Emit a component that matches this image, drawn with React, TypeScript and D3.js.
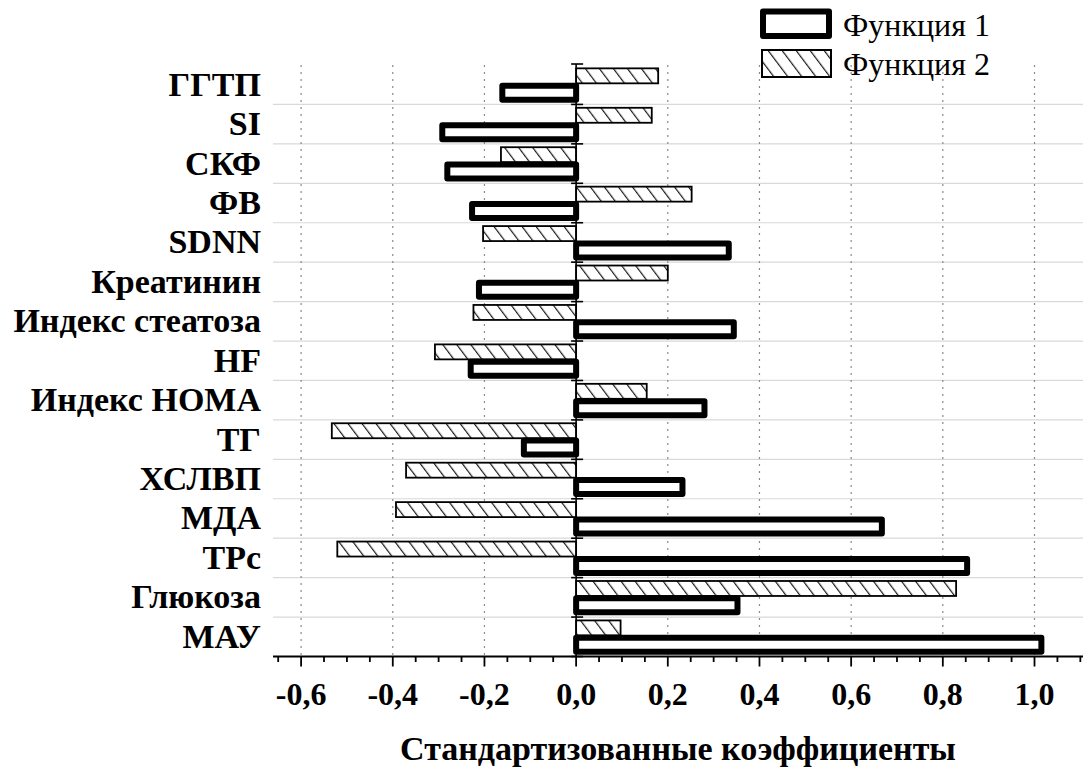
import React from "react";
import * as d3 from "d3";

// Standardized discriminant function coefficients per indicator
const categories = [
  "ГГТП",
  "SI",
  "СКФ",
  "ФВ",
  "SDNN",
  "Креатинин",
  "Индекс стеатоза",
  "HF",
  "Индекс НОМА",
  "ТГ",
  "ХСЛВП",
  "МДА",
  "ТРс",
  "Глюкоза",
  "МАУ",
];
const function1 = [
  -0.161, -0.292, -0.281, -0.227, 0.333, -0.212, 0.344, -0.23, 0.28, -0.114,
  0.232, 0.667, 0.853, 0.352, 1.015,
];
const function2 = [
  0.179, 0.165, -0.164, 0.252, -0.203, 0.2, -0.224, -0.308, 0.154, -0.533,
  -0.371, -0.393, -0.521, 0.829, 0.097,
];
const seriesNames = ["Функция 1", "Функция 2"];
const majorTicks = [-0.6, -0.4, -0.2, 0.0, 0.2, 0.4, 0.6, 0.8, 1.0];
const axisTitle = "Стандартизованные коэффициенты";

const W = 1083;
const H = 769;
const FONT = "Liberation Serif, Tinos, Times New Roman, DejaVu Serif, serif";

export default function App() {
  const x = d3.scaleLinear().domain([-0.6, 1.0]).range([301.1, 1034.5]);
  const y = d3.scaleBand<string>().domain(categories).range([65, 656.5]).paddingInner(0);
  const bw = y.bandwidth();
  const x0 = x(0);
  const axisY = 656.5;
  const axisLeft = 273;
  const axisRight = W;

  const minorTicks = d3.range(-13, 23).map((i) => i * 0.05);
  const fmt = (v: number) => d3.format(".1f")(v).replace(".", ",").replace("−", "-");
  const boundaries = categories.map((c) => y(c) as number).concat([axisY]);
  const txt = { fontFamily: FONT } as React.CSSProperties;

  return (
    <div style={{ position: "absolute", left: 0, top: 0 }}>
      <svg width={W} height={H} viewBox={`0 0 ${W} ${H}`} style={{ display: "block", background: "#fff" }}>
        <defs>
          <pattern
            id="hatch"
            patternUnits="userSpaceOnUse"
            width={11.2}
            height={11.2}
            patternTransform="rotate(-37)"
          >
            <rect width={11.2} height={11.2} fill="#fff" />
            <line x1={0.6} y1={0} x2={0.6} y2={11.2} stroke="#1a1a1a" strokeWidth={1.2} />
          </pattern>
        </defs>

        {/* category separators */}
        {boundaries.slice(1, -1).map((b, i) => (
          <line key={`sep${i}`} x1={axisLeft} x2={axisRight} y1={b} y2={b} stroke="#d9d9d9" strokeWidth={1.2} />
        ))}

        {/* vertical dotted grid */}
        {majorTicks
          .filter((t) => t !== 0)
          .map((t) => (
            <line
              key={`g${t}`}
              x1={x(t)}
              x2={x(t)}
              y1={65}
              y2={axisY}
              stroke="#8a8a8a"
              strokeWidth={1.2}
              strokeDasharray="2,5"
            />
          ))}

        {/* Function 2: hatched bars */}
        {categories.map((c, i) => {
          const v = function2[i];
          const top = (y(c) as number) + bw * 0.085;
          return (
            <rect
              key={`f2${c}`}
              x={Math.min(x0, x(v))}
              y={top}
              width={Math.abs(x(v) - x0)}
              height={bw * 0.38}
              fill="url(#hatch)"
              stroke="#000"
              strokeWidth={1.8}
            />
          );
        })}

        {/* Function 1: thick outlined bars */}
        {categories.map((c, i) => {
          const v = function1[i];
          const top = (y(c) as number) + bw * 0.525;
          return (
            <rect
              key={`f1${c}`}
              x={Math.min(x0, x(v))}
              y={top}
              width={Math.abs(x(v) - x0)}
              height={bw * 0.355}
              fill="#fff"
              stroke="#000"
              strokeWidth={6}
              strokeLinejoin="round"
            />
          );
        })}

        {/* zero axis with ticks at category boundaries */}
        <line x1={x0} x2={x0} y1={64} y2={axisY} stroke="#000" strokeWidth={1.6} />
        {boundaries.map((b, i) => (
          <line key={`yt${i}`} x1={x0 - 5} x2={x0 + 7} y1={i === 0 ? 64 : b} y2={i === 0 ? 64 : b} stroke="#000" strokeWidth={1.6} />
        ))}

        {/* x axis */}
        <line x1={axisLeft} x2={axisRight} y1={axisY} y2={axisY} stroke="#000" strokeWidth={2} />
        {minorTicks.map((t, i) => {
          const major = Math.round(t * 100) % 20 === 0;
          return (
            <line
              key={`xt${i}`}
              x1={x(t)}
              x2={x(t)}
              y1={axisY}
              y2={axisY + (major ? 10 : 5.5)}
              stroke="#000"
              strokeWidth={1.8}
            />
          );
        })}
        {majorTicks.map((t) => (
          <text key={`xl${t}`} x={x(t)} y={705} textAnchor="middle" style={txt} fontWeight="bold" fontSize={32} fill="#000">
            {fmt(t)}
          </text>
        ))}
        <text x={(axisLeft + axisRight) / 2} y={760} textAnchor="middle" style={txt} fontWeight="bold" fontSize={34} fill="#000">
          {axisTitle}
        </text>

        {/* category labels */}
        {categories.map((c) => (
          <text
            key={`cl${c}`}
            x={261}
            y={(y(c) as number) + bw / 2 + 11}
            textAnchor="end"
            style={txt}
            fontWeight="bold"
            fontSize={34}
            fill="#000"
          >
            {c}
          </text>
        ))}

        {/* legend */}
        <rect x={763} y={11.5} width={66} height={24.5} fill="#fff" stroke="#000" strokeWidth={6} strokeLinejoin="round" />
        <text x={843} y={36} style={txt} fontSize={32} fill="#000">
          {seriesNames[0]}
        </text>
        <rect x={762} y={50} width={69} height={27} fill="url(#hatch)" stroke="#000" strokeWidth={2} />
        <text x={843} y={75} style={txt} fontSize={32} fill="#000">
          {seriesNames[1]}
        </text>
      </svg>
    </div>
  );
}
